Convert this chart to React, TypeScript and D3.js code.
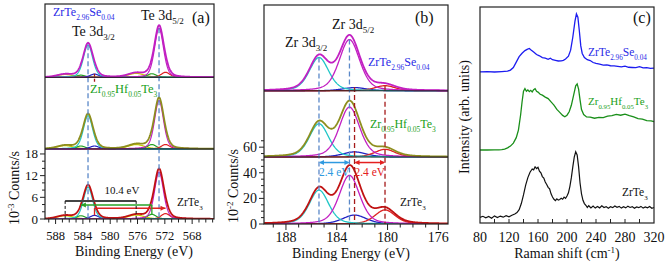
import React from "react";
import * as d3 from "d3";

const FONT = "Liberation Serif";

// ---------------- Panel (a): Te 3d XPS ----------------
const teSampleNames = ["ZrTe2.96Se0.04", "Zr0.95Hf0.05Te3", "ZrTe3"];
const teOffsets = [39.2, 19.4, 0]; // stacked baselines (10^-3 counts/s)
const teComponents = ["Te 3d5/2", "Te 3d3/2", "Te(b) 3d5/2", "Te(b) 3d3/2", "Te(c) 3d5/2", "Te(c) 3d3/2", "sat 3d5/2", "sat 3d3/2"];
const teCenters = [572.85, 583.25, 571.9, 582.3, 573.9, 584.3, 576.2, 586.6];
const teFwhm = [1.55, 1.6, 1.5, 1.5, 1.5, 1.5, 2.8, 2.8];
const teHeightsZrTeSe = [13.6, 9.0, 1.4, 0.9, 1.0, 0.6, 1.1, 0.8];
const teHeightsZrHfTe = [13.4, 9.2, 1.2, 0.8, 1.2, 0.8, 1.2, 0.9];
const teHeightsZrTe3 = [13.0, 8.8, 1.5, 1.0, 1.3, 0.9, 1.1, 0.9];
const teTicks = [588, 584, 580, 576, 572, 568];
const teCountTicks = [0, 6, 12, 18];
const teSplitLabel = "10.4 eV";
const teArrowLevels = [5.0, 3.9, 3.0]; // black, green, red arrows

// ---------------- Panel (b): Zr 3d XPS ----------------
const zrSampleNames = ["ZrTe2.96Se0.04", "Zr0.95Hf0.05Te3", "ZrTe3"];
const zrOffsets = [104, 52.3, 0]; // stacked baselines (10^-2 counts/s)
const zrComponents = ["Zr 3d3/2", "Zr 3d5/2", "Zr(b) 3d3/2", "Zr(b) 3d5/2"];
const zrCenters = [185.4, 183.0, 182.6, 180.2];
const zrFwhm = [1.8, 1.9, 2.2, 1.9];
const zrHeightsZrTeSe = [26.0, 40.0, 2.5, 4.0];
const zrHeightsZrHfTe = [26.0, 39.0, 4.0, 6.0];
const zrHeightsZrTe3 = [26.5, 38.0, 7.0, 11.0];
const zrTicks = [188, 184, 180, 176];
const zrCountTicks = [0, 20, 40, 60];
const zrSplitLabel = "2.4 eV";
const zrArrowLevel = 48;

// ---------------- Panel (c): Raman ----------------
const ramanTicks = [80, 120, 160, 200, 240, 280, 320];
const ramanZrTeSe: [number, number][] = [
  [80, 70.0], [90, 70.1], [100, 69.9], [110, 70.1], [118, 70.3], [122, 70.8], [126, 72.0], [130, 74.5],
  [134, 77.0], [138, 78.6], [142, 79.8], [145, 80.4], [148, 80.8], [150, 80.2], [154, 79.2], [158, 78.0],
  [162, 77.4], [166, 76.6], [170, 76.3], [174, 75.8], [177, 76.3], [180, 75.6], [184, 75.3], [188, 75.0],
  [192, 75.1], [195, 75.3], [198, 75.9], [202, 77.2], [205, 80.0], [208, 86.0], [211, 93.5], [213, 96.8],
  [215, 95.3], [217, 89.0], [219, 82.0], [221, 78.5], [224, 76.6], [228, 75.6], [232, 75.2], [236, 74.3],
  [240, 73.9], [245, 73.5], [250, 73.1], [255, 73.2], [260, 72.8], [265, 72.7], [270, 72.5], [275, 72.3],
  [280, 72.6], [285, 72.1], [290, 72.0], [295, 71.9], [300, 72.4], [305, 71.8], [310, 71.9], [315, 71.6], [320, 71.7],
];
const ramanZrHfTe: [number, number][] = [
  [80, 33.8], [90, 33.8], [100, 33.9], [106, 33.9], [110, 34.0], [114, 34.2], [118, 34.8], [122, 35.6],
  [126, 37.0], [130, 39.5], [133, 43.0], [136, 50.0], [138, 56.0], [140, 61.0], [142, 62.2], [144, 61.0],
  [146, 61.6], [148, 60.8], [150, 61.4], [152, 60.7], [154, 61.7], [156, 62.2], [158, 61.0], [160, 60.6],
  [163, 59.6], [166, 59.2], [170, 58.3], [174, 57.6], [178, 56.1], [182, 54.6], [186, 52.6], [190, 51.2],
  [194, 49.8], [197, 49.2], [200, 49.9], [203, 51.5], [206, 54.5], [209, 59.0], [212, 63.5], [214, 64.4],
  [216, 62.0], [218, 57.0], [220, 52.5], [223, 50.2], [227, 49.1], [232, 49.0], [238, 48.5], [244, 48.9],
  [250, 48.8], [256, 49.5], [262, 49.7], [268, 50.3], [274, 49.9], [280, 50.4], [286, 49.7], [292, 49.1],
  [298, 48.3], [304, 48.1], [310, 47.4], [316, 47.3], [320, 46.9],
];
const ramanZrTe3: [number, number][] = [
  [80, 2.6], [84, 3.1], [88, 2.4], [92, 3.0], [96, 2.2], [100, 3.3], [104, 2.5], [108, 3.2], [112, 2.7],
  [116, 3.4], [120, 2.9], [124, 3.6], [128, 4.2], [131, 4.8], [134, 6.2], [137, 9.0], [140, 13.0], [143, 17.5],
  [146, 21.0], [149, 23.5], [152, 25.0], [154, 24.6], [156, 26.0], [158, 25.2], [160, 25.8], [162, 24.0],
  [164, 23.2], [166, 21.5], [168, 20.8], [170, 19.0], [172, 17.8], [174, 16.5], [176, 15.8], [178, 13.5],
  [180, 12.0], [182, 11.0], [184, 10.4], [186, 11.2], [188, 10.6], [190, 10.9], [192, 11.5], [194, 11.0],
  [196, 12.0], [198, 11.4], [200, 12.5], [202, 14.0], [204, 17.0], [206, 21.0], [208, 26.0], [210, 30.5],
  [212, 33.0], [214, 31.5], [216, 26.0], [218, 18.5], [220, 13.5], [222, 10.5], [224, 9.0], [226, 8.2],
  [228, 7.2], [230, 8.0], [233, 7.0], [236, 7.8], [239, 6.9], [242, 7.6], [245, 7.0], [248, 8.0], [251, 7.2],
  [254, 7.6], [257, 6.8], [260, 7.5], [263, 7.1], [266, 7.9], [269, 7.3], [272, 7.7], [275, 6.9], [278, 7.5],
  [281, 7.0], [284, 7.8], [287, 7.2], [290, 7.6], [293, 6.8], [296, 7.4], [299, 7.1], [302, 7.7], [305, 6.9],
  [308, 7.4], [311, 7.0], [314, 7.6], [317, 6.8], [320, 7.2],
];

// ---------------- styles ----------------
const C = {
  magenta: "#c21fc2",
  cyan: "#1fc6c6",
  red: "#dd2222",
  blue: "#2222c4",
  green: "#27a327",
  yellow: "#c9c900",
  olive: "#8e8e1e",
  darkred: "#c01212",
  dashBlue: "#5a88c8",
  dashRed: "#a51a1a",
  lightBlue: "#2f9ae0",
  arrowRed: "#e42020",
  labelBlue: "#2a2ae6",
  labelGreen: "#20a020",
  ramanBlue: "#1c1cf0",
  ramanGreen: "#1a8f1a",
};
const teCompColors = [C.magenta, C.cyan, C.red, C.blue, C.green, C.green, C.yellow, C.yellow];
const teEnvColors = [C.magenta, C.olive, C.darkred];
const zrCompColors = [C.cyan, C.magenta, C.blue, C.red];
const zrEnvColors = [C.magenta, C.olive, C.darkred];

const pv = (x: number, c: number, h: number, w: number, eta: number) => {
  const d = (x - c) / w;
  return h * ((1 - eta) * Math.exp(-4 * Math.LN2 * d * d) + eta / (1 + 4 * d * d));
};

type Part = [string, number]; // 0 normal, 1 sub, 2 sup
function Rich({ x, y, parts, size, small, fill = "#111", anchor = "start" }: any) {
  let state = 0;
  const shift = size * 0.32;
  return (
    <text x={x} y={y} style={{ fontFamily: FONT }} fontSize={size} fill={fill} textAnchor={anchor}>
      {parts.map(([t, s]: Part, i: number) => {
        const pos = (st: number) => (st === 1 ? shift : st === 2 ? -size * 0.38 : 0);
        const dy = pos(s) - pos(state);
        state = s;
        return (
          <tspan key={i} dy={dy} fontSize={s ? small : size} style={{ fontFamily: FONT }}>
            {t}
          </tspan>
        );
      })}
    </text>
  );
}

function T({ x, y, size = 14, fill = "#111", anchor = "start", transform, children }: any) {
  return (
    <text x={x} y={y} transform={transform} style={{ fontFamily: FONT }} fontSize={size} fill={fill} textAnchor={anchor}>
      {children}
    </text>
  );
}

const fZrTeSe: Part[] = [["ZrTe", 0], ["2.96", 1], ["Se", 0], ["0.04", 1]];
const fZrHfTe: Part[] = [["Zr", 0], ["0.95", 1], ["Hf", 0], ["0.05", 1], ["Te", 0], ["3", 1]];
const fZrTe3: Part[] = [["ZrTe", 0], ["3", 1]];

function arrowHead(xTip: number, yTip: number, dir: number, size = 5) {
  return `M${xTip},${yTip}L${xTip - dir * size},${yTip - size * 0.5}L${xTip - dir * size},${yTip + size * 0.5}Z`;
}

function PanelA() {
  const x = d3.scaleLinear().domain([589.55, 564.8]).range([45, 214]);
  const y = d3.scaleLinear().domain([0, 59.5]).range([219, 4]);
  const grid = d3.range(589.6, 564.7, -0.05);
  const heights = [teHeightsZrTeSe, teHeightsZrHfTe, teHeightsZrTe3];
  const line = d3.line<[number, number]>().x((d) => x(d[0])).y((d) => y(d[1]));
  const order = [6, 7, 4, 5, 2, 3, 1, 0];
  const eta = 0.3;
  const [x0, x1] = x.range();
  const [yb, yt] = y.range();
  const minor = d3.range(565, 590, 1);
  const yMinor = d3.range(0, 19, 2);
  return (
    <g>
      <defs>
        <clipPath id="clipA">
          <rect x={x0} y={yt} width={x1 - x0} height={yb - yt} />
        </clipPath>
      </defs>
      <g clipPath="url(#clipA)">
        {teSampleNames.map((s, si) => (
          <g key={s}>
            {order.map((ci) => (
              <path
                key={ci}
                d={line(grid.map((e) => [e, teOffsets[si] + pv(e, teCenters[ci], heights[si][ci], teFwhm[ci], eta)]))!}
                fill="none"
                stroke={teCompColors[ci]}
                strokeWidth={1.2}
              />
            ))}
            <path
              d={line(grid.map((e) => [e, teOffsets[si] + d3.sum(teCenters, (c, ci) => pv(e, c, heights[si][ci], teFwhm[ci], eta))]))!}
              fill="none"
              stroke={teEnvColors[si]}
              strokeWidth={1.8}
            />
          </g>
        ))}
        <line x1={x(teCenters[1])} x2={x(teCenters[1])} y1={y(teOffsets[0] + 8.9)} y2={yb} stroke={C.dashBlue} strokeWidth={1.3} strokeDasharray="5,3" />
        <line x1={x(teCenters[0])} x2={x(teCenters[0])} y1={y(teOffsets[0] + 13.6)} y2={yb} stroke={C.dashBlue} strokeWidth={1.3} strokeDasharray="5,3" />
        <line x1={x(teCenters[3])} x2={x(teCenters[3])} y1={y(teOffsets[0] + 1)} y2={y(teOffsets[0] - 1.4)} stroke={C.dashRed} strokeWidth={1.3} strokeDasharray="3,2" />
        {[
          { c: [teCenters[7], teCenters[6]], lv: teArrowLevels[0], col: "#444", dir: 0 },
          { c: [teCenters[5], teCenters[4]], lv: teArrowLevels[1], col: C.green, dir: -1 },
          { c: [teCenters[3], teCenters[2]], lv: teArrowLevels[2], col: C.red, dir: 1 },
        ].map((a, i) => (
          <g key={i}>
            <line x1={x(a.c[0])} x2={x(a.c[1])} y1={y(a.lv)} y2={y(a.lv)} stroke={a.col} strokeWidth={i === 0 ? 2 : 1.5} />
            {a.dir !== 0 && <path d={arrowHead(a.dir > 0 ? x(a.c[1]) : x(a.c[0]), y(a.lv), a.dir, 5)} fill={a.col} />}
          </g>
        ))}
        <line x1={x(teCenters[7])} x2={x(teCenters[7])} y1={y(teArrowLevels[0])} y2={yb} stroke="#111" strokeWidth={1} strokeDasharray="3,2" />
        <line x1={x(teCenters[6])} x2={x(teCenters[6])} y1={y(teArrowLevels[0])} y2={yb} stroke="#111" strokeWidth={1} strokeDasharray="3,2" />
        <line x1={x(teCenters[4])} x2={x(teCenters[4])} y1={y(teArrowLevels[1])} y2={y(1.2)} stroke={C.green} strokeWidth={1.3} />
        <line x1={x(teCenters[3])} x2={x(teCenters[3])} y1={y(teArrowLevels[2])} y2={y(1.0)} stroke={C.red} strokeWidth={1.3} />
      </g>
      <rect x={x0} y={yt} width={x1 - x0} height={yb - yt} fill="none" stroke="#222" strokeWidth={1.2} />
      <line x1={x0} x2={x1} y1={y(teOffsets[0])} y2={y(teOffsets[0])} stroke="#222" strokeWidth={1} />
      <line x1={x0} x2={x1} y1={y(teOffsets[1])} y2={y(teOffsets[1])} stroke="#222" strokeWidth={1} />
      {minor.map((t) => (
        <line key={t} x1={x(t)} x2={x(t)} y1={yb} y2={yb + (teTicks.includes(t) ? 5 : 3.5)} stroke="#222" strokeWidth={1} />
      ))}
      {teTicks.map((t) => (
        <T key={t} x={x(t)} y={239.5} size={12.5} anchor="middle">{t}</T>
      ))}
      {yMinor.map((t) => (
        <line key={t} x1={x0} x2={x0 - (teCountTicks.includes(t) ? 5 : 3)} y1={y(t)} y2={y(t)} stroke="#222" strokeWidth={1} />
      ))}
      {teCountTicks.map((t) => (
        <T key={t} x={38} y={y(t) + 4.5} size={13} anchor="end">{t}</T>
      ))}
      <T x={134} y={255.5} size={14} anchor="middle">Binding Energy (eV)</T>
      <g transform="translate(19,188) rotate(-90)">
        <Rich x={0} y={0} anchor="middle" size={14} small={9} parts={[["10", 0], ["-3", 2], [" Counts/s", 0]]} />
      </g>
      <Rich x={53} y={16} size={12} small={7.5} fill={C.labelBlue} parts={fZrTeSe} />
      <Rich x={72} y={36} size={14} small={9} parts={[["Te 3d", 0], ["3/2", 1]]} />
      <Rich x={141} y={20} size={14} small={9} parts={[["Te 3d", 0], ["5/2", 1]]} />
      <T x={192} y={23} size={16}>(a)</T>
      <Rich x={90} y={93} size={12.5} small={7.5} fill={C.labelGreen} parts={fZrHfTe} />
      <Rich x={177} y={206} size={11.5} small={7} parts={fZrTe3} />
      <T x={122} y={194} size={11} anchor="middle">{teSplitLabel}</T>
    </g>
  );
}

function PanelB() {
  const x = d3.scaleLinear().domain([189.73, 175.24]).range([264, 448]);
  const y = d3.scaleLinear().domain([0, 171]).range([224, 5]);
  const grid = d3.range(189.8, 175.1, -0.04);
  const heights = [zrHeightsZrTeSe, zrHeightsZrHfTe, zrHeightsZrTe3];
  const line = d3.line<[number, number]>().x((d) => x(d[0])).y((d) => y(d[1]));
  const order = [2, 3, 0, 1];
  const eta = 0.35;
  const [x0, x1] = x.range();
  const [yb, yt] = y.range();
  const minor = d3.range(176, 190, 1);
  const yMinor = d3.range(0, 66, 5);
  const ay = y(zrArrowLevel);
  return (
    <g>
      <defs>
        <clipPath id="clipB">
          <rect x={x0} y={yt} width={x1 - x0} height={yb - yt} />
        </clipPath>
      </defs>
      <g clipPath="url(#clipB)">
        {zrSampleNames.map((s, si) => (
          <g key={s}>
            {order.map((ci) => (
              <path
                key={ci}
                d={line(grid.map((e) => [e, zrOffsets[si] + pv(e, zrCenters[ci], heights[si][ci], zrFwhm[ci], eta)]))!}
                fill="none"
                stroke={zrCompColors[ci]}
                strokeWidth={1.3}
              />
            ))}
            <path
              d={line(grid.map((e) => [e, zrOffsets[si] + d3.sum(zrCenters, (c, ci) => pv(e, c, heights[si][ci], zrFwhm[ci], eta))]))!}
              fill="none"
              stroke={zrEnvColors[si]}
              strokeWidth={1.8}
            />
          </g>
        ))}
        <line x1={x(zrCenters[0])} x2={x(zrCenters[0])} y1={y(zrOffsets[0] + 26)} y2={yb} stroke={C.dashBlue} strokeWidth={1.3} strokeDasharray="5,3" />
        <line x1={x(zrCenters[1])} x2={x(zrCenters[1])} y1={y(zrOffsets[0] + 40)} y2={yb} stroke={C.dashBlue} strokeWidth={1.3} strokeDasharray="5,3" />
        <line x1={x(zrCenters[2])} x2={x(zrCenters[2])} y1={y(zrOffsets[0] + 3)} y2={yb} stroke={C.dashRed} strokeWidth={1.3} strokeDasharray="5,3" />
        <line x1={x(zrCenters[3])} x2={x(zrCenters[3])} y1={y(zrOffsets[0] + 4)} y2={yb} stroke={C.dashRed} strokeWidth={1.3} strokeDasharray="5,3" />
        <line x1={x(zrCenters[0]) + 1} x2={x(zrCenters[1]) - 1} y1={ay} y2={ay} stroke={C.lightBlue} strokeWidth={1.5} />
        <path d={arrowHead(x(zrCenters[0]), ay, -1, 5)} fill={C.lightBlue} />
        <path d={arrowHead(x(zrCenters[1]), ay, 1, 5)} fill={C.lightBlue} />
        <line x1={x(zrCenters[2]) + 1} x2={x(zrCenters[3]) - 1} y1={ay} y2={ay} stroke={C.arrowRed} strokeWidth={1.5} />
        <path d={arrowHead(x(zrCenters[2]), ay, -1, 5)} fill={C.arrowRed} />
        <path d={arrowHead(x(zrCenters[3]), ay, 1, 5)} fill={C.arrowRed} />
      </g>
      <rect x={x0} y={yt} width={x1 - x0} height={yb - yt} fill="none" stroke="#222" strokeWidth={1.2} />
      <line x1={x0} x2={x1} y1={y(zrOffsets[0])} y2={y(zrOffsets[0])} stroke="#222" strokeWidth={1} />
      <line x1={x0} x2={x1} y1={y(zrOffsets[1])} y2={y(zrOffsets[1])} stroke="#222" strokeWidth={1} />
      {minor.map((t) => (
        <line key={t} x1={x(t)} x2={x(t)} y1={yb} y2={yb + (zrTicks.includes(t) ? 6 : 3.5)} stroke="#222" strokeWidth={1} />
      ))}
      {zrTicks.map((t) => (
        <T key={t} x={x(t)} y={242} size={14} anchor="middle">{t}</T>
      ))}
      {yMinor.map((t) => (
        <line key={t} x1={x0} x2={x0 - (zrCountTicks.includes(t) ? 5 : 3)} y1={y(t)} y2={y(t)} stroke="#222" strokeWidth={1} />
      ))}
      {zrCountTicks.map((t) => (
        <T key={t} x={257} y={y(t) + 5} size={14} anchor="end">{t}</T>
      ))}
      <T x={351} y={258} size={14} anchor="middle">Binding Energy (eV)</T>
      <g transform="translate(238,186) rotate(-90)">
        <Rich x={0} y={0} anchor="middle" size={14} small={9} parts={[["10", 0], ["-2", 2], [" Counts/s", 0]]} />
      </g>
      <Rich x={285} y={47} size={14} small={9} parts={[["Zr 3d", 0], ["3/2", 1]]} />
      <Rich x={332} y={29} size={14} small={9} parts={[["Zr 3d", 0], ["5/2", 1]]} />
      <T x={415} y={23} size={16}>(b)</T>
      <Rich x={368} y={66} size={12} small={7.5} fill={C.labelBlue} parts={fZrTeSe} />
      <Rich x={370} y={128} size={12} small={7.5} fill={C.labelGreen} parts={fZrHfTe} />
      <Rich x={400} y={206} size={11.5} small={7} parts={fZrTe3} />
      <T x={(x(zrCenters[0]) + x(zrCenters[1])) / 2} y={ay + 13} size={11.5} anchor="middle" fill={C.lightBlue}>{zrSplitLabel}</T>
      <T x={(x(zrCenters[2]) + x(zrCenters[3])) / 2} y={ay + 13} size={11.5} anchor="middle" fill={C.arrowRed}>{zrSplitLabel}</T>
    </g>
  );
}

function PanelC() {
  const x = d3.scaleLinear().domain([80, 320]).range([480, 654]);
  const y = d3.scaleLinear().domain([0, 100]).range([223, 7]);
  const line = d3.line<[number, number]>().x((d) => x(d[0])).y((d) => y(d[1]));
  const [x0, x1] = x.range();
  const [yb, yt] = y.range();
  const minor = d3.range(100, 320, 20);
  return (
    <g>
      <path d={line(ramanZrTeSe)!} fill="none" stroke={C.ramanBlue} strokeWidth={1.3} />
      <path d={line(ramanZrHfTe)!} fill="none" stroke={C.ramanGreen} strokeWidth={1.3} />
      <path d={line(ramanZrTe3)!} fill="none" stroke="#111" strokeWidth={1.2} />
      <rect x={x0} y={yt} width={x1 - x0} height={yb - yt} fill="none" stroke="#222" strokeWidth={1.2} />
      {minor.map((t) => (
        <line key={t} x1={x(t)} x2={x(t)} y1={yb} y2={yb - 4} stroke="#222" strokeWidth={1} />
      ))}
      {ramanTicks.map((t) => (
        <T key={t} x={x(t)} y={242} size={14} anchor="middle">{t}</T>
      ))}
      <Rich x={567} y={258} anchor="middle" size={14} small={9} parts={[["Raman shift (cm", 0], ["-1", 2], [")", 0]]} />
      <T transform="translate(469,117) rotate(-90)" x={0} y={0} size={14} anchor="middle">Intensity (arb. units)</T>
      <T x={633} y={23} size={16}>(c)</T>
      <Rich x={588} y={56} size={11.5} small={7.2} fill={C.labelBlue} parts={fZrTeSe} />
      <Rich x={588} y={105} size={11} small={6.8} fill={C.labelGreen} parts={fZrHfTe} />
      <Rich x={622} y={196} size={11.5} small={7} parts={fZrTe3} />
    </g>
  );
}

export default function App() {
  return (
    <svg width={670} height={263} style={{ position: "absolute", left: 0, top: 0, background: "#fff" }}>
      <rect width={670} height={263} fill="#fff" />
      <PanelA />
      <PanelB />
      <PanelC />
    </svg>
  );
}
